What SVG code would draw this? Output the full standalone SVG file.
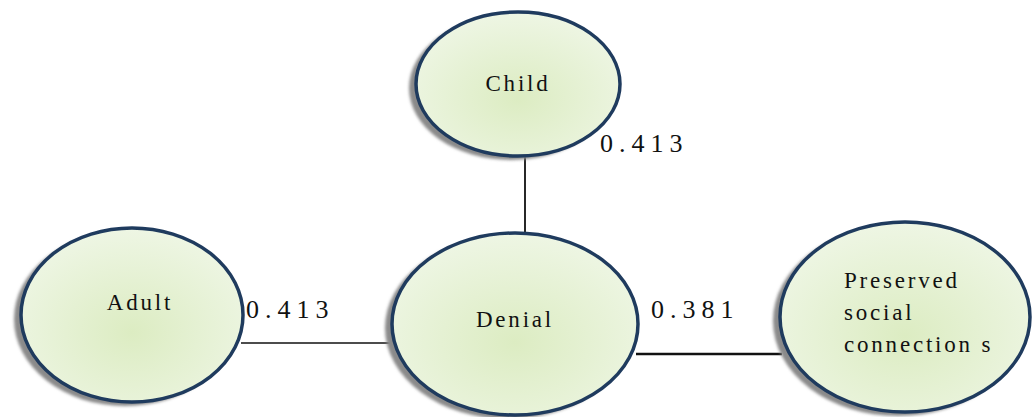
<svg xmlns="http://www.w3.org/2000/svg" width="1035" height="417" viewBox="0 0 1035 417">
  <style>
    .node { fill: url(#bubble); stroke: #1f3b5e; stroke-width: 3.5; }
    .shadow { fill: #8a8a8a; filter: url(#soft); }
    .name { font-size: 23px; letter-spacing: 2.8px; fill: #111; }
    .weight { font-size: 26px; letter-spacing: 6px; fill: #111; }
    .edge { stroke: #111; fill: none; }
  </style>
  <defs>
    <radialGradient id="bubble" cx="0.5" cy="0.6" r="0.6">
      <stop offset="0" stop-color="#dcecc2"/>
      <stop offset="1" stop-color="#eef6e4"/>
    </radialGradient>
    <filter id="soft" x="-10%" y="-10%" width="120%" height="120%">
      <feGaussianBlur stdDeviation="1.5"/>
    </filter>
  </defs>
  <rect width="1035" height="417" fill="#ffffff"/>

  <!-- connectors -->
  <g id="connectors">
    <line class="edge" x1="525" y1="156" x2="525" y2="234" stroke-width="1.8"/>
    <line class="edge" x1="241" y1="343" x2="392" y2="343" stroke-width="1.5"/>
    <line class="edge" x1="636" y1="354" x2="782" y2="354" stroke-width="2.5"/>
  </g>

  <!-- all labels use a Times-metric serif -->
  <g font-family="Liberation Serif, DejaVu Serif, serif">
    <g id="node-child">
      <ellipse class="shadow" cx="511" cy="88" rx="102" ry="72"/>
      <ellipse class="node" cx="518" cy="84" rx="102" ry="72"/>
      <text class="name" x="518" y="91" text-anchor="middle">Child</text>
    </g>

    <g id="node-adult">
      <ellipse class="shadow" cx="125" cy="319" rx="111" ry="87"/>
      <ellipse class="node" cx="132" cy="315" rx="111" ry="87"/>
      <text class="name" x="140" y="310" text-anchor="middle">Adult</text>
    </g>

    <g id="node-denial">
      <ellipse class="shadow" cx="508" cy="328" rx="123" ry="91"/>
      <ellipse class="node" cx="515" cy="324" rx="123" ry="91"/>
      <text class="name" x="515" y="327" text-anchor="middle">Denial</text>
    </g>

    <g id="node-preserved">
      <ellipse class="shadow" cx="898" cy="321" rx="125" ry="95"/>
      <ellipse class="node" cx="905" cy="317" rx="125" ry="95"/>
      <text class="name" x="844" y="288">Preserved</text>
      <text class="name" x="844" y="320">social</text>
      <text class="name" x="844" y="352">connection s</text>
    </g>

    <!-- edge weights -->
    <g id="weights">
      <text class="weight" x="600" y="152">0.413</text>
      <text class="weight" x="246" y="318">0.413</text>
      <text class="weight" x="651" y="318">0.381</text>
    </g>
  </g>
</svg>
